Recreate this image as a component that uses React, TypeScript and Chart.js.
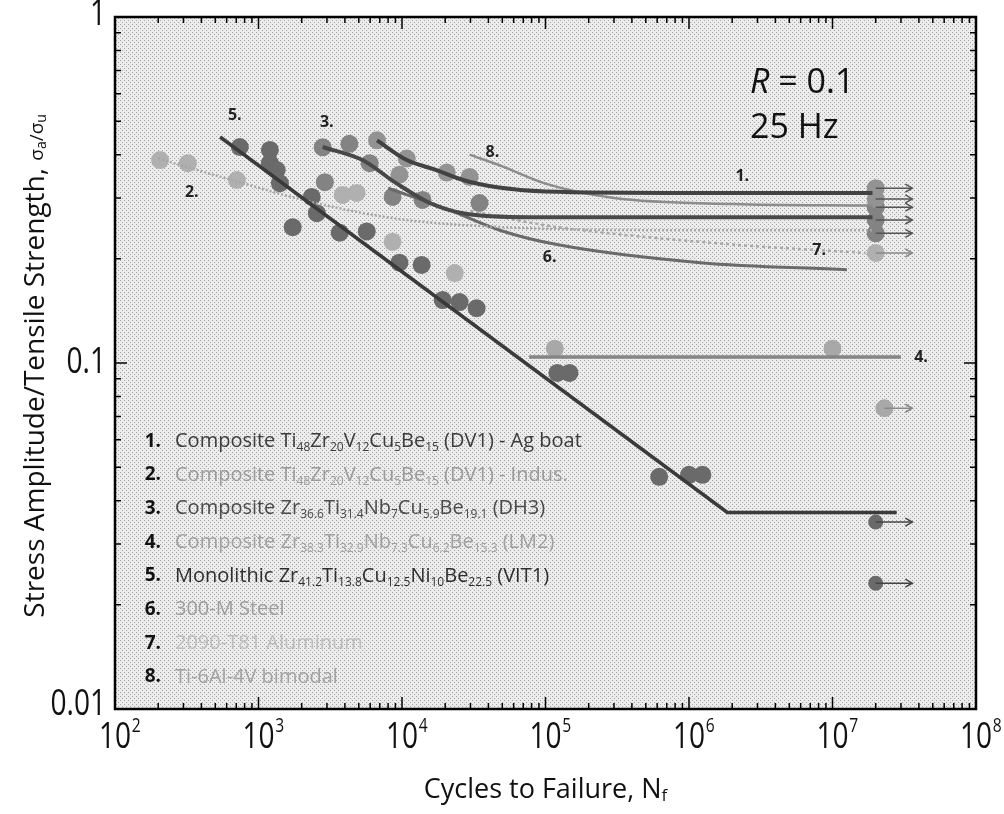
import React, { useEffect, useRef } from "react";
import { Chart, registerables } from "chart.js";
Chart.register(...registerables);

type P = [number, number];

const FONT = '"Open Sans", "Noto Sans", sans-serif';

// ---- axis ticks ----
const xTickValues = [1e2, 1e3, 1e4, 1e5, 1e6, 1e7, 1e8];
const xTickExponents = ["2", "3", "4", "5", "6", "7", "8"];
const yTickValues = [0.01, 0.1, 1];
const yTickLabels = ["0.01", "0.1", "1"];

// ---- data points (cycles, stress ratio) ----
const dv1AgPoints: P[] = [[6700, 0.44], [10800, 0.39], [9600, 0.35], [20500, 0.355], [29600, 0.345]];
const dv1AgRunouts: P[] = [[2e7, 0.32], [2e7, 0.298]];
const dv1IndusPoints: P[] = [[206, 0.386], [322, 0.378], [707, 0.338], [3860, 0.306], [4830, 0.31], [8600, 0.224], [23300, 0.182]];
const dv1IndusRunouts: P[] = [[2e7, 0.208]];
const dh3Points: P[] = [[2800, 0.42], [4300, 0.43], [5950, 0.378], [2900, 0.333], [8600, 0.302], [13900, 0.296], [34700, 0.29]];
const dh3Runouts: P[] = [[2e7, 0.282], [2e7, 0.259], [2e7, 0.237]];
const lm2Points: P[] = [[1.16e5, 0.11], [1e7, 0.11]];
const lm2Runouts: P[] = [[2.3e7, 0.074]];
const vit1Points: P[] = [[741, 0.421], [1200, 0.413], [1200, 0.378], [1340, 0.361], [1410, 0.331], [1730, 0.247], [2350, 0.302], [2550, 0.271], [3680, 0.238], [5680, 0.24], [9600, 0.195], [13700, 0.192], [19200, 0.152], [25200, 0.15], [33100, 0.144], [1.21e5, 0.0936], [1.47e5, 0.0936], [6.2e5, 0.0469], [1e6, 0.0475], [1.24e6, 0.0475]];
const vit1Runouts: P[] = [[2e7, 0.0347], [2e7, 0.0231]];
const runoutArrowEnd = 3.6e7;

// ---- S-N curves ----
const curve1: P[] = [[6700, 0.44], [1.08e4, 0.386], [1.74e4, 0.361], [2.66e4, 0.338], [4.6e4, 0.322], [1e5, 0.313], [1e6, 0.31], [1.9e7, 0.31]];
const curve2: P[] = [[200, 0.39], [700, 0.335], [2500, 0.29], [1e4, 0.26], [5e4, 0.247], [1e6, 0.242], [1.9e7, 0.242]];
const curve3: P[] = [[2800, 0.421], [5300, 0.386], [9100, 0.331], [1.56e4, 0.29], [2.66e4, 0.271], [7.8e4, 0.264], [1.9e7, 0.264]];
const curve4: P[] = [[7.7e4, 0.104], [3e7, 0.104]];
const curve5: P[] = [[540, 0.45], [1.85e6, 0.037], [2.8e7, 0.037]];
const curve6: P[] = [[8000, 0.32], [2e4, 0.28], [4.8e4, 0.242], [1.2e5, 0.22], [1.2e6, 0.195], [1.26e7, 0.186]];
const curve7: P[] = [[3e4, 0.275], [1e5, 0.25], [2.8e5, 0.237], [2e6, 0.22], [1.7e7, 0.208]];
const curve8: P[] = [[2.96e4, 0.40], [5e4, 0.37], [1e5, 0.33], [3e5, 0.30], [2e6, 0.288], [1.9e7, 0.285]];

// ---- curve number labels (text, cycles, stress) ----
const curveLabelText = ["1.", "2.", "3.", "4.", "5.", "6.", "7.", "8."];
const curveLabelN = [2.35e6, 343, 2990, 4.14e7, 684, 1.07e5, 8.07e6, 4.27e4];
const curveLabelS = [0.345, 0.312, 0.497, 0.104, 0.521, 0.202, 0.212, 0.407];

// ---- legend ----
const legendNumbers = ["1.", "2.", "3.", "4.", "5.", "6.", "7.", "8."];
const legendTexts = [
  "Composite Ti_{48}Zr_{20}V_{12}Cu_{5}Be_{15} (DV1) - Ag boat",
  "Composite Ti_{48}Zr_{20}V_{12}Cu_{5}Be_{15} (DV1) - Indus.",
  "Composite Zr_{36.6}Ti_{31.4}Nb_{7}Cu_{5.9}Be_{19.1} (DH3)",
  "Composite Zr_{38.3}Ti_{32.9}Nb_{7.3}Cu_{6.2}Be_{15.3} (LM2)",
  "Monolithic Zr_{41.2}Ti_{13.8}Cu_{12.5}Ni_{10}Be_{22.5} (VIT1)",
  "300-M Steel",
  "2090-T81 Aluminum",
  "Ti-6Al-4V bimodal",
];
const legendColors = ["#3c3c3c", "#9a9a9a", "#4a4a4a", "#a0a0a0", "#2e2e2e", "#9c9c9c", "#bdbdbd", "#a2a2a2"];

const toXY = (arr: P[]) => arr.map(([x, y]) => ({ x, y }));

function drawRich(ctx: CanvasRenderingContext2D, text: string, x: number, y: number, size: number, color: string) {
  const parts = text.split(/(_\{[^}]*\})/).filter((s) => s.length);
  let cx = x;
  ctx.fillStyle = color;
  ctx.textBaseline = "middle";
  ctx.textAlign = "left";
  for (const p of parts) {
    const m = p.match(/^_\{([^}]*)\}$/);
    if (m) {
      ctx.font = `${Math.round(size * 0.6)}px ${FONT}`;
      ctx.fillText(m[1], cx, y + size * 0.32);
      cx += ctx.measureText(m[1]).width;
    } else {
      ctx.font = `${size}px ${FONT}`;
      ctx.fillText(p, cx, y);
      cx += ctx.measureText(p).width;
    }
  }
  return cx;
}

function halftone(ctx: CanvasRenderingContext2D) {
  const c = document.createElement("canvas");
  c.width = 4; c.height = 4;
  const g = c.getContext("2d") as CanvasRenderingContext2D;
  g.fillStyle = "#ececec"; g.fillRect(0, 0, 4, 4);
  g.fillStyle = "#a4a4a4";
  g.fillRect(0, 0, 1, 1);
  g.fillRect(2, 2, 1, 1);
  return ctx.createPattern(c, "repeat") || "#e0e0e0";
}

const customPlugin = {
  id: "custom",
  beforeDatasetsDraw(chart: any) {
    const { ctx, chartArea: a } = chart;
    ctx.save();
    ctx.fillStyle = halftone(ctx);
    ctx.fillRect(a.left, a.top, a.right - a.left, a.bottom - a.top);
    ctx.restore();
  },
  afterDatasetsDraw(chart: any) {
    const { ctx, chartArea: a, scales } = chart;
    const xs = scales.x, ys = scales.y;
    ctx.save();
    // run-out arrows
    const runSets: [P[], string][] = [
      [dv1AgRunouts, "#555"], [dv1IndusRunouts, "#888"], [dh3Runouts, "#555"], [lm2Runouts, "#888"], [vit1Runouts, "#444"],
    ];
    for (const [arr, col] of runSets) {
      for (const [n, s] of arr) {
        const x0 = xs.getPixelForValue(n), x1 = xs.getPixelForValue(runoutArrowEnd), y = ys.getPixelForValue(s);
        ctx.strokeStyle = col; ctx.lineWidth = 1.5;
        ctx.beginPath(); ctx.moveTo(x0, y); ctx.lineTo(x1, y); ctx.stroke();
        ctx.beginPath(); ctx.moveTo(x1 - 7, y - 4); ctx.lineTo(x1, y); ctx.lineTo(x1 - 7, y + 4); ctx.stroke();
      }
    }
    // frame
    ctx.strokeStyle = "#000"; ctx.lineWidth = 2.5;
    ctx.strokeRect(a.left, a.top, a.right - a.left, a.bottom - a.top);
    // inward ticks
    ctx.lineWidth = 1.5;
    for (let e = 2; e <= 7; e++) {
      for (let k = 1; k <= 9; k++) {
        const v = k * Math.pow(10, e);
        const x = xs.getPixelForValue(v);
        const len = k === 1 ? 12 : 6;
        ctx.beginPath();
        ctx.moveTo(x, a.bottom); ctx.lineTo(x, a.bottom - len);
        ctx.moveTo(x, a.top); ctx.lineTo(x, a.top + len);
        ctx.stroke();
      }
    }
    for (let e = -2; e <= -1; e++) {
      for (let k = 1; k <= 9; k++) {
        const v = k * Math.pow(10, e);
        const y = ys.getPixelForValue(v);
        const len = k === 1 ? 12 : 6;
        ctx.beginPath();
        ctx.moveTo(a.left, y); ctx.lineTo(a.left + len, y);
        ctx.moveTo(a.right, y); ctx.lineTo(a.right - len, y);
        ctx.stroke();
      }
    }
    ctx.restore();
  },
  afterDraw(chart: any) {
    const { ctx, chartArea: a, scales } = chart;
    const xs = scales.x, ys = scales.y;
    ctx.save();
    // tick labels (condensed)
    const cond = 0.78;
    ctx.fillStyle = "#111";
    ctx.textBaseline = "middle";
    xTickValues.forEach((v, i) => {
      const x = xs.getPixelForValue(v);
      ctx.save();
      ctx.translate(x, 738);
      ctx.scale(cond, 1);
      ctx.font = `36px ${FONT}`;
      ctx.textAlign = "center";
      ctx.fillText("10", 0, 0);
      const w = ctx.measureText("10").width;
      ctx.font = `20px ${FONT}`;
      ctx.textAlign = "left";
      ctx.fillText(xTickExponents[i], w / 2 + 1, -12);
      ctx.restore();
    });
    yTickValues.forEach((v, i) => {
      const y = ys.getPixelForValue(v);
      ctx.save();
      ctx.translate(a.left - 9, i === 0 ? y - 4 : i === 2 ? y - 2 : y);
      ctx.scale(cond, 1);
      ctx.font = `36px ${FONT}`;
      ctx.textAlign = "right";
      ctx.fillText(yTickLabels[i], 0, 0);
      ctx.restore();
    });
    // curve number labels
    ctx.font = `bold 16px ${FONT}`;
    ctx.fillStyle = "#222";
    ctx.textAlign = "center"; ctx.textBaseline = "middle";
    curveLabelText.forEach((t, i) => {
      ctx.fillText(t, xs.getPixelForValue(curveLabelN[i]), ys.getPixelForValue(curveLabelS[i]));
    });
    // R = 0.1, 25 Hz
    ctx.fillStyle = "#111"; ctx.textAlign = "left";
    ctx.font = `italic 34px ${FONT}`;
    ctx.fillText("R", 750, 83);
    const rw = ctx.measureText("R").width;
    ctx.font = `34px ${FONT}`;
    ctx.fillText(" = 0.1", 750 + rw, 83);
    ctx.fillText("25 Hz", 750, 128);
    // legend
    const spacing = 33.7;
    legendTexts.forEach((t, i) => {
      const y = a.bottom - 32 - (7 - i) * spacing;
      ctx.font = `bold 19px ${FONT}`;
      ctx.fillStyle = "#111"; ctx.textAlign = "right"; ctx.textBaseline = "middle";
      ctx.fillText(legendNumbers[i], a.left + 46, y);
      drawRich(ctx, t, a.left + 60, y, 20, legendColors[i]);
    });
    // axis titles
    ctx.fillStyle = "#111";
    ctx.font = `27px ${FONT}`;
    ctx.textAlign = "left"; ctx.textBaseline = "middle";
    const xt1 = "Cycles to Failure, N";
    const w1 = ctx.measureText(xt1).width;
    ctx.font = `17px ${FONT}`;
    const w2 = ctx.measureText("f").width;
    const cxm = (a.left + a.right) / 2;
    ctx.font = `27px ${FONT}`;
    ctx.fillText(xt1, cxm - (w1 + w2) / 2, 790);
    ctx.font = `17px ${FONT}`;
    ctx.fillText("f", cxm - (w1 + w2) / 2 + w1, 796);
    // y title rotated
    ctx.translate(36, (a.top + a.bottom) / 2);
    ctx.rotate(-Math.PI / 2);
    ctx.font = `28px ${FONT}`;
    const yt = "Stress Amplitude/Tensile Strength, ";
    const ytw = ctx.measureText(yt).width;
    ctx.font = `19px ${FONT}`;
    const sw = ctx.measureText("σ").width, aw = ctx.measureText("a/σ").width, uw = ctx.measureText("u").width;
    const total = ytw + sw + aw + uw;
    let px = -total / 2;
    ctx.font = `28px ${FONT}`;
    ctx.fillText(yt, px, 0); px += ytw;
    ctx.font = `19px ${FONT}`;
    ctx.fillText("σ", px, 2); px += sw;
    ctx.font = `14px ${FONT}`;
    ctx.fillText("a", px, 6); px += ctx.measureText("a").width;
    ctx.font = `19px ${FONT}`;
    ctx.fillText("/σ", px, 2); px += ctx.measureText("/σ").width;
    ctx.font = `14px ${FONT}`;
    ctx.fillText("u", px, 6);
    ctx.restore();
  },
};

export default function App() {
  const ref = useRef<HTMLCanvasElement | null>(null);
  useEffect(() => {
    document.body.style.margin = "0";
    const lineDs = (data: P[], color: string, width: number, dash: number[] = [], tension = 0.4) => ({
      type: "line",
      data: toXY(data),
      borderColor: color,
      borderWidth: width,
      borderDash: dash,
      pointRadius: 0,
      fill: false,
      tension,
      cubicInterpolationMode: tension ? "monotone" : "default",
      showLine: true,
      order: 0,
    });
    const ptDs = (data: P[], color: string, r = 9) => ({
      type: "scatter",
      data: toXY(data),
      backgroundColor: color,
      borderColor: color,
      borderWidth: 0,
      pointRadius: r,
      showLine: false,
      order: 1,
    });
    const chart = new Chart(ref.current as HTMLCanvasElement, {
      type: "scatter",
      data: {
        datasets: [
          lineDs(curve5, "#3a3a3a", 3.5, [], 0),
          lineDs(curve1, "#424242", 4),
          lineDs(curve3, "#484848", 4),
          lineDs(curve4, "#858585", 3.5, [], 0),
          lineDs(curve2, "#a6a6a6", 2.5, [2, 2]),
          lineDs(curve6, "#6a6a6a", 3),
          lineDs(curve7, "#a8a8a8", 2.5, [3, 3]),
          lineDs(curve8, "#8c8c8c", 2.5),
          ptDs(dv1IndusPoints, "#b0b0b0"),
          ptDs(dv1IndusRunouts, "#b0b0b0"),
          ptDs(lm2Points, "#a8a8a8"),
          ptDs(lm2Runouts, "#a8a8a8"),
          ptDs(dv1AgPoints, "#939393"),
          ptDs(dv1AgRunouts, "#939393"),
          ptDs(dh3Points, "#838383"),
          ptDs(dh3Runouts, "#838383"),
          ptDs(vit1Points, "#6a6a6a"),
          ptDs(vit1Runouts, "#6a6a6a", 7.5),
        ] as any,
      },
      options: {
        animation: false,
        responsive: false,
        maintainAspectRatio: false,
        layout: { padding: { top: 17, right: 28, left: 0, bottom: 0 } },
        plugins: { legend: { display: false }, tooltip: { enabled: false } },
        scales: {
          x: {
            type: "logarithmic",
            min: 1e2,
            max: 1e8,
            afterFit: (s: any) => { s.height = 105; },
            ticks: { display: false },
            grid: { display: false, drawTicks: false },
            border: { display: false },
          },
          y: {
            type: "logarithmic",
            min: 0.01,
            max: 1,
            afterFit: (s: any) => { s.width = 115; },
            ticks: { display: false },
            grid: { display: false, drawTicks: false },
            border: { display: false },
          },
        },
      },
      plugins: [customPlugin],
    } as any);
    return () => chart.destroy();
  }, []);
  return (
    <div style={{ position: "absolute", left: 0, top: 0, width: 1004, height: 814, background: "#fff" }}>
      <canvas ref={ref} width={1004} height={814} style={{ display: "block" }} />
    </div>
  );
}
